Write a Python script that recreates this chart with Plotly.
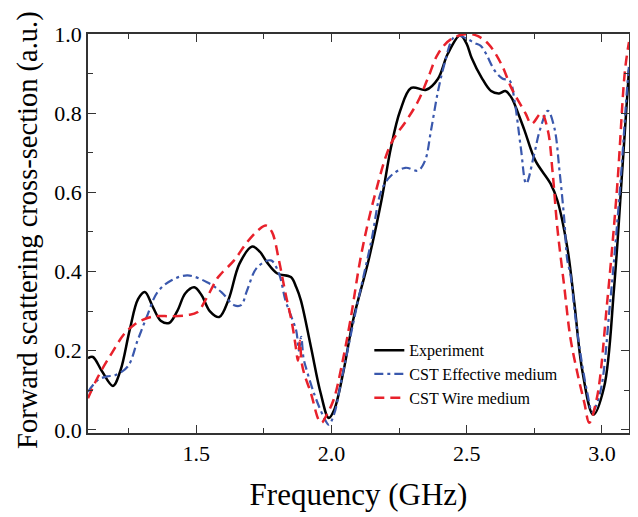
import plotly.graph_objects as go

# Experiment
exp_f = [1.10, 1.118, 1.15, 1.192, 1.22, 1.254, 1.285, 1.31, 1.34, 1.37, 1.40, 1.43, 1.46, 1.493,
         1.52, 1.55, 1.585, 1.62, 1.66, 1.707, 1.735, 1.762, 1.80, 1.85, 1.87, 1.887, 1.924, 1.96,
         1.99, 2.01, 2.045, 2.08, 2.137, 2.185, 2.22, 2.254, 2.295, 2.35, 2.394, 2.43, 2.476, 2.50,
         2.518, 2.555, 2.59, 2.62, 2.643, 2.665, 2.69, 2.714, 2.754, 2.81, 2.835, 2.872, 2.898,
         2.927, 2.968, 3.008, 3.045, 3.075, 3.10]
exp_v = [0.181, 0.184, 0.15, 0.111, 0.15, 0.252, 0.33, 0.348, 0.31, 0.275, 0.27, 0.30, 0.345, 0.36,
         0.34, 0.30, 0.285, 0.33, 0.42, 0.463, 0.45, 0.423, 0.395, 0.386, 0.36, 0.327, 0.21, 0.093,
         0.03, 0.05, 0.15, 0.277, 0.428, 0.58, 0.713, 0.806, 0.864, 0.859, 0.887, 0.95, 0.997, 0.975,
         0.94, 0.89, 0.856, 0.85, 0.856, 0.84, 0.80, 0.756, 0.68, 0.622, 0.58, 0.46, 0.32,
         0.151, 0.038, 0.108, 0.36, 0.655, 0.91]

# CST Effective medium
eff_f = [1.10, 1.137, 1.17, 1.20, 1.247, 1.284, 1.317, 1.357, 1.409, 1.468, 1.54, 1.593, 1.64, 1.666,
         1.688, 1.725, 1.776, 1.806, 1.83, 1.855, 1.87, 1.88, 1.888, 1.897, 1.905, 1.935, 1.971, 1.99,
         2.01, 2.037, 2.09, 2.148, 2.185, 2.22, 2.273, 2.32, 2.346, 2.368, 2.394, 2.42, 2.45, 2.475,
         2.504, 2.53, 2.552, 2.57, 2.604, 2.633, 2.659, 2.677, 2.70, 2.72, 2.75, 2.77, 2.80, 2.824,
         2.843, 2.861, 2.872, 2.883, 2.90, 2.92, 2.946, 2.964, 2.993, 3.03, 3.067, 3.093, 3.10]
eff_v = [0.096, 0.126, 0.135, 0.138, 0.16, 0.227, 0.285, 0.348, 0.378, 0.39, 0.373, 0.348, 0.315, 0.315,
         0.352, 0.41, 0.428, 0.395, 0.327, 0.28, 0.25, 0.20, 0.235, 0.18, 0.159, 0.093, 0.033, 0.013,
         0.04, 0.126, 0.30, 0.479, 0.605, 0.642, 0.662, 0.655, 0.68, 0.756, 0.856, 0.93, 0.99, 0.995,
         0.987, 0.977, 0.97, 0.952, 0.907, 0.887, 0.882, 0.83, 0.713, 0.622, 0.698, 0.756, 0.806, 0.763,
         0.655, 0.529, 0.428, 0.395, 0.295, 0.194, 0.093, 0.045, 0.093, 0.32, 0.612, 0.864, 0.92]

# CST Wire medium
wire_f = [1.10, 1.137, 1.188, 1.236, 1.27, 1.30, 1.346, 1.41, 1.468, 1.504, 1.54, 1.578, 1.593, 1.64,
          1.688, 1.73, 1.758, 1.78, 1.806, 1.83, 1.854, 1.868, 1.876, 1.883, 1.89, 1.90, 1.924, 1.953,
          1.964, 1.98, 2.008, 2.037, 2.07, 2.111, 2.162, 2.22, 2.276, 2.32, 2.357, 2.394, 2.442, 2.504,
          2.54, 2.58, 2.628, 2.665, 2.717, 2.74, 2.776, 2.80, 2.817, 2.835, 2.861, 2.883, 2.909,
          2.935, 2.953, 2.982, 3.019, 3.056, 3.085, 3.10]
wire_v = [0.08, 0.134, 0.194, 0.244, 0.265, 0.277, 0.287, 0.287, 0.29, 0.297, 0.335, 0.383, 0.395, 0.428,
          0.474, 0.505, 0.516, 0.50, 0.428, 0.345, 0.27, 0.21, 0.175, 0.225, 0.17, 0.14, 0.093, 0.025,
          0.018, 0.035, 0.076, 0.159, 0.277, 0.446, 0.597, 0.723, 0.78, 0.83, 0.889, 0.95, 0.987, 1.0,
          0.995, 0.975, 0.924, 0.864, 0.80, 0.773, 0.80, 0.756, 0.655, 0.511, 0.36, 0.234, 0.144,
          0.068, 0.018, 0.083, 0.32, 0.612, 0.907, 0.98]

x_ticks = [1.5, 2.0, 2.5, 3.0]
x_ticklabels = ["1.5", "2.0", "2.5", "3.0"]
y_ticks = [0.0, 0.2, 0.4, 0.6, 0.8, 1.0]
y_ticklabels = ["0.0", "0.2", "0.4", "0.6", "0.8", "1.0"]

FONT = "Liberation Serif"

fig = go.Figure()
fig.add_trace(go.Scatter(x=exp_f, y=exp_v, mode="lines", name="Experiment",
                         line=dict(color="black", width=2.5, shape="spline", smoothing=1)))
fig.add_trace(go.Scatter(x=eff_f, y=eff_v, mode="lines", name="CST Effective medium",
                         line=dict(color="#3a58ad", width=2.2, dash="9px,4px,3px,4px",
                                   shape="spline", smoothing=1)))
fig.add_trace(go.Scatter(x=wire_f, y=wire_v, mode="lines", name="CST Wire medium",
                         line=dict(color="#e8212b", width=2.5, dash="10px,6px",
                                   shape="spline", smoothing=1)))

axis_common = dict(showgrid=False, zeroline=False, showline=True, linecolor="#333333", linewidth=1.5,
                   mirror="ticks", ticks="inside", ticklen=8, tickwidth=1.3, tickcolor="#333333",
                   tickfont=dict(family=FONT, size=22, color="black"))

fig.update_xaxes(range=[1.1, 3.1], tickvals=x_ticks, ticktext=x_ticklabels,
                 minor=dict(ticks="inside", ticklen=5, dtick=0.25, tick0=1.0, tickcolor="#333333", tickwidth=1.3),
                 title=dict(text="Frequency (GHz)", font=dict(family=FONT, size=31, color="black"), standoff=18),
                 **axis_common)
fig.update_yaxes(range=[-0.008, 1.0], tickvals=y_ticks, ticktext=y_ticklabels,
                 minor=dict(ticks="inside", ticklen=5, dtick=0.1, tick0=0.0, tickcolor="#333333", tickwidth=1.3),
                 **axis_common)

fig.add_annotation(text="Forward scattering cross-section (a.u.)", textangle=-90,
                   xref="paper", yref="paper", x=-0.112, y=0.51, xanchor="center", yanchor="middle",
                   showarrow=False, font=dict(family=FONT, size=28.5, color="black"))

fig.update_layout(
    width=630, height=509,
    margin=dict(l=80, r=7, t=26, b=84),
    font=dict(family=FONT, color="black"),
    paper_bgcolor="white", plot_bgcolor="white",
    showlegend=True,
    legend=dict(x=0.52, y=0.25, xanchor="left", yanchor="top", bgcolor="rgba(0,0,0,0)",
                font=dict(family=FONT, size=16, color="black"), tracegroupgap=0, itemwidth=30),
)

fig.write_html("out.html")
